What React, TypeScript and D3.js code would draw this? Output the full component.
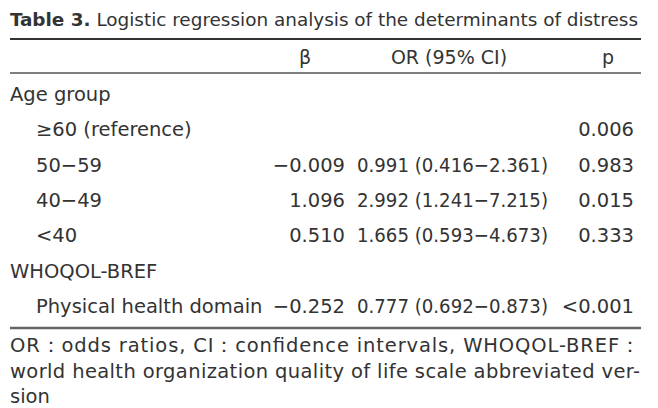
import React from 'react';
import * as d3 from 'd3';

// Table content
const rowLabels = ['Age group', '\u226560 (reference)', '50\u221259', '40\u221249', '<40', 'WHOQOL-BREF', 'Physical health domain'];
const rowIndent = [false, true, true, true, true, false, true];
const betaValues = ['', '', '\u22120.009', '1.096', '0.510', '', '\u22120.252'];
const orValues = ['', '', '0.991 (0.416\u22122.361)', '2.992 (1.241\u22127.215)', '1.665 (0.593\u22124.673)', '', '0.777 (0.692\u22120.873)'];
const pValues = ['', '0.006', '0.983', '0.015', '0.333', '', '<0.001'];
const headers = ['\u03b2', 'OR (95% CI)', 'p'];
const footLines = [
  'OR\uff1aodds ratios, CI\uff1aconfidence intervals, WHOQOL-BREF\uff1a',
  'world health organization quality of life scale abbreviated ver-',
  'sion',
];

const W = 658;
const H = 408;
const FONT = '"DejaVu Sans", sans-serif';
const TITLE_FONT = '"DejaVu Sans Condensed", "Liberation Sans", sans-serif';
const INK = '#333';

export default function App() {
  // Row baselines
  const y = d3.scalePoint<number>()
    .domain(d3.range(rowLabels.length))
    .range([101, 313]);

  // Column anchors (x)
  const left = 10;
  const right = 641;
  const indent = 36;
  const betaRight = 345;
  const orLeft = 357;
  const orWidth = 191;
  const pRight = 634;

  return (
    <svg width={W} height={H} style={{ position: 'fixed', top: 0, left: 0, background: '#fff' }}
      fontFamily={FONT} fill={INK}>
      <rect width={W} height={H} fill="#fff" />

      {/* Title */}
      <text x={left} y={26} fontSize={18.5} fontFamily={TITLE_FONT} textLength={628} lengthAdjust="spacingAndGlyphs">
        <tspan fontWeight="bold">Table 3.</tspan>
        <tspan> Logistic regression analysis of the determinants of distress</tspan>
      </text>

      {/* Rules */}
      <line x1={left} x2={right} y1={39} y2={39} stroke="#333" strokeWidth={2.2} />
      <line x1={left} x2={right} y1={73} y2={73} stroke="#555" strokeWidth={1.4} />
      <line x1={left} x2={right} y1={328} y2={328} stroke="#666" strokeWidth={2.4} />

      {/* Header */}
      <g fontSize={19}>
        <text x={305} y={64} textAnchor="middle">{headers[0]}</text>
        <text x={449} y={64} textAnchor="middle">{headers[1]}</text>
        <text x={608} y={64} textAnchor="middle">{headers[2]}</text>
      </g>

      {/* Body rows */}
      <g fontSize={19.5}>
        {rowLabels.map((lab, i) => (
          <g key={i}>
            <text x={rowIndent[i] ? indent : left} y={y(i)}>{lab}</text>
            {betaValues[i] && <text x={betaRight} y={y(i)} textAnchor="end">{betaValues[i]}</text>}
            {orValues[i] && (
              <text x={orLeft} y={y(i)} textLength={orWidth} lengthAdjust="spacingAndGlyphs">{orValues[i]}</text>
            )}
            {pValues[i] && <text x={pRight} y={y(i)} textAnchor="end">{pValues[i]}</text>}
          </g>
        ))}
      </g>

      {/* Footnote */}
      <g fontSize={19.5}>
        {footLines.map((t, i) => (
          <text key={i} x={left} y={352 + i * 25.5}
            {...(i < 2 ? { textLength: 630, lengthAdjust: 'spacing' } : {})}>{t}</text>
        ))}
      </g>
    </svg>
  );
}
